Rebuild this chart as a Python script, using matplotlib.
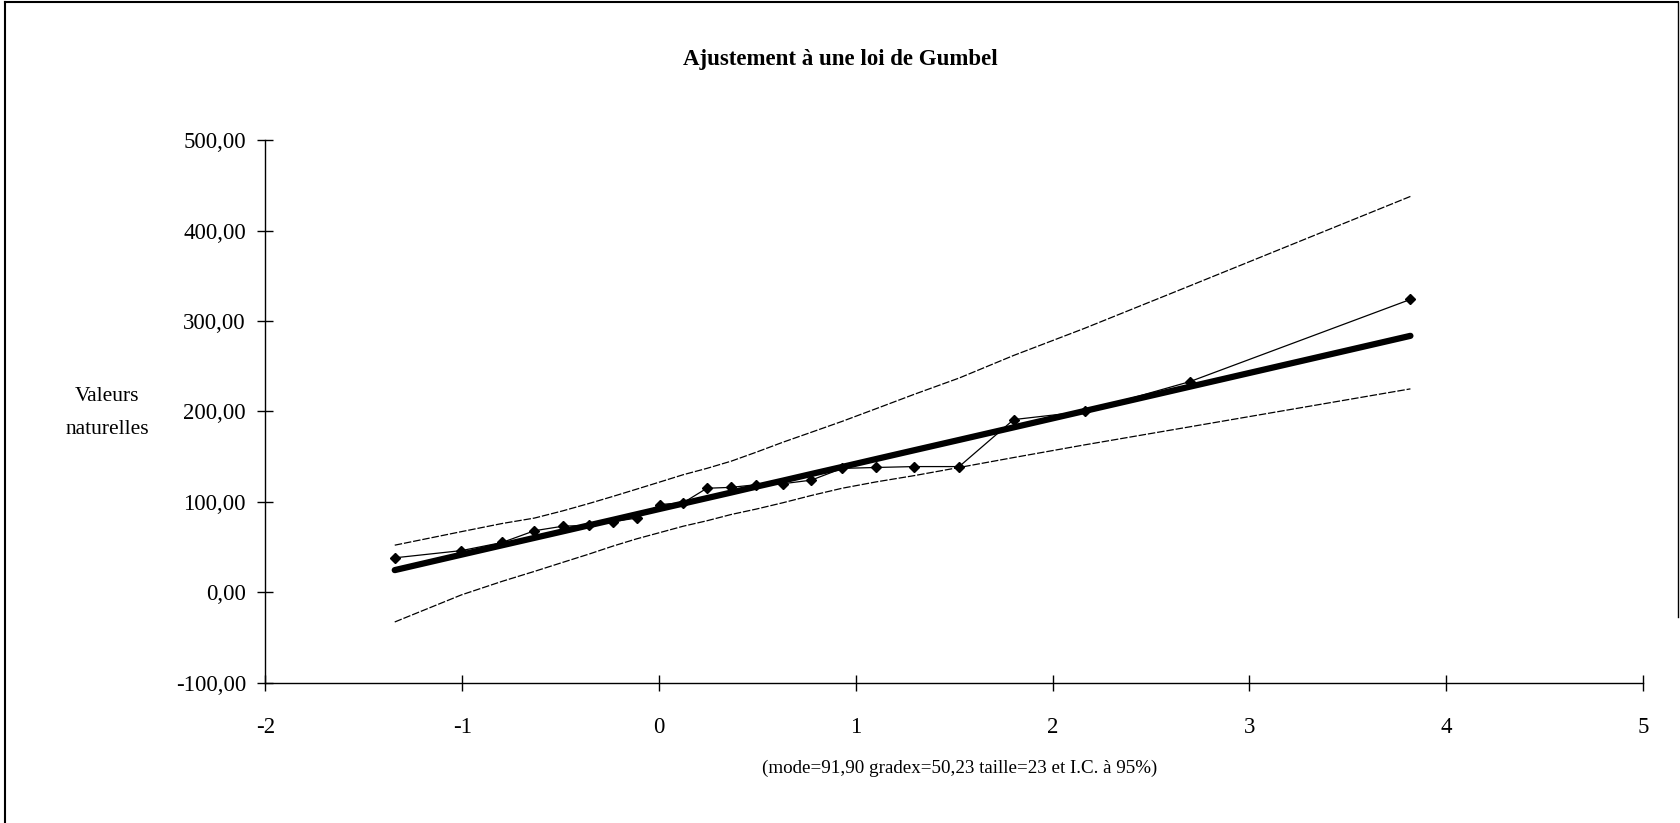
import matplotlib
matplotlib.use("Agg")
import matplotlib.pyplot as plt
from matplotlib.lines import Line2D
from matplotlib.ticker import FuncFormatter

plt.rcParams['font.family'] = ['Liberation Serif', 'DejaVu Serif']
plt.rcParams['axes.unicode_minus'] = False

# Gumbel reduced variable (Hazen plotting positions) for the 23 sorted values
u = [-1.343, -1.004, -0.797, -0.633, -0.489, -0.358, -0.234, -0.114, 0.005,
     0.123, 0.243, 0.367, 0.495, 0.630, 0.774, 0.930, 1.102, 1.297, 1.525,
     1.802, 2.162, 2.697, 3.818]
# observed values (sorted)
observed = [38, 46, 55, 68, 73, 74, 78, 82, 97, 99, 115, 116, 119, 120, 124,
            137, 138, 139, 139, 191, 200, 233, 324]
# fitted Gumbel line (mode=91.90, gradex=50.23)
fitted = [24.4, 41.5, 51.9, 60.1, 67.3, 73.9, 80.1, 86.2, 92.2, 98.1, 104.1,
          110.3, 116.8, 123.5, 130.8, 138.6, 147.3, 157.1, 168.5, 182.4,
          200.5, 227.4, 283.7]
# 95% confidence bounds
upper = [52, 67, 76, 82, 90, 98, 106, 114, 122, 130, 137, 145, 155, 166, 177,
         189, 203, 219, 237, 262, 292, 339, 438]
lower = [-33, -3, 12, 23, 33, 42, 51, 59, 66, 73, 79, 86, 92, 99, 107, 115,
         122, 129, 138, 149, 163, 183, 225]

title = "Ajustement à une loi de Gumbel"
xlabel = "(mode=91,90 gradex=50,23 taille=23 et I.C. à 95%)"
ylabel = "Valeurs\nnaturelles"

fig = plt.figure(figsize=(16.8, 8.23), dpi=100)
ax = fig.add_axes([0.158, 0.1707, 0.820, 0.6587])

ax.plot(u, upper, color='black', lw=0.9, ls=(0, (6, 1.5)))
ax.plot(u, lower, color='black', lw=0.9, ls=(0, (6, 1.5)))
ax.plot(u, fitted, color='black', lw=4.5, solid_capstyle='round')
ax.plot(u, observed, color='black', lw=0.9, marker='D', markersize=5)

ax.set_xlim(-2, 5)
ax.set_ylim(-100, 500)
ax.set_xticks(range(-2, 6))
ax.set_yticks(range(-100, 501, 100))
ax.yaxis.set_major_formatter(FuncFormatter(lambda v, p: f"{v:.2f}".replace('.', ',')))

for s in ['top', 'right']:
    ax.spines[s].set_visible(False)
for s in ['left', 'bottom']:
    ax.spines[s].set_linewidth(1.0)

ax.tick_params(axis='both', direction='inout', length=12, width=1.0,
               labelsize=16.5, pad=8)
ax.tick_params(axis='x', pad=19)

fig.text(0.5, 0.928, title, ha='center', va='center', fontsize=16.5,
         fontweight='bold')
fig.text(0.5714, 0.066, xlabel, ha='center', va='center', fontsize=13.7)
fig.text(0.0637, 0.498, ylabel, ha='center', va='center', fontsize=15.5,
         linespacing=2.0)

# border around the chart area (left, top, right)
fig.add_artist(Line2D([0.003, 0.003], [0, 0.998], color='black', lw=1.5,
                      transform=fig.transFigure))
fig.add_artist(Line2D([0.003, 0.999], [0.998, 0.998], color='black', lw=1.5,
                      transform=fig.transFigure))
fig.add_artist(Line2D([0.999, 0.999], [0.25, 0.998], color='black', lw=1.0,
                      transform=fig.transFigure))

fig.savefig("out.png", dpi=100, facecolor='white')
